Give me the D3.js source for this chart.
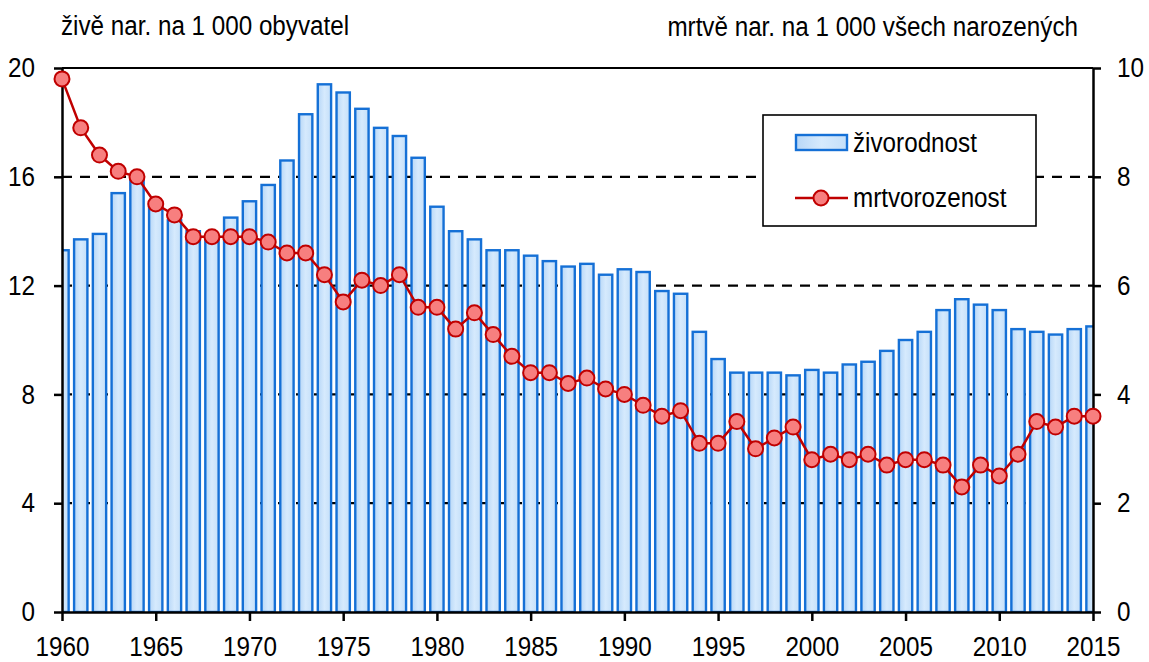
<!DOCTYPE html>
<html>
<head>
<meta charset="utf-8">
<script src="https://cdn.jsdelivr.net/npm/d3@7"></script>
<style>
  html, body { margin: 0; padding: 0; background: #fff; }
  svg text { font-family: "Liberation Sans", Arial, sans-serif; fill: #000; }
</style>
</head>
<body>
<svg id="chart" width="1149" height="662"></svg>
<script>
const years = d3.range(1960, 2016);
const births = [13.3, 13.7, 13.9, 15.4, 15.9, 14.9, 14.4, 14.0, 13.8, 14.5,
  15.1, 15.7, 16.6, 18.3, 19.4, 19.1, 18.5, 17.8, 17.5, 16.7,
  14.9, 14.0, 13.7, 13.3, 13.3, 13.1, 12.9, 12.7, 12.8, 12.4,
  12.6, 12.5, 11.8, 11.7, 10.3, 9.3, 8.8, 8.8, 8.8, 8.7,
  8.9, 8.8, 9.1, 9.2, 9.6, 10.0, 10.3, 11.1, 11.5, 11.3,
  11.1, 10.4, 10.3, 10.2, 10.4, 10.5];
const stillbirths = [9.8, 8.9, 8.4, 8.1, 8.0, 7.5, 7.3, 6.9, 6.9, 6.9,
  6.9, 6.8, 6.6, 6.6, 6.2, 5.7, 6.1, 6.0, 6.2, 5.6,
  5.6, 5.2, 5.5, 5.1, 4.7, 4.4, 4.4, 4.2, 4.3, 4.1,
  4.0, 3.8, 3.6, 3.7, 3.1, 3.1, 3.5, 3.0, 3.2, 3.4,
  2.8, 2.9, 2.8, 2.9, 2.7, 2.8, 2.8, 2.7, 2.3, 2.7,
  2.5, 2.9, 3.5, 3.4, 3.6, 3.6];
const leftTicks = [0, 4, 8, 12, 16, 20];
const rightTicks = [0, 2, 4, 6, 8, 10];
const xTicks = [1960, 1965, 1970, 1975, 1980, 1985, 1990, 1995, 2000, 2005, 2010, 2015];
const leftTitle = "živě nar. na 1 000 obyvatel";
const rightTitle = "mrtvě nar. na 1 000 všech narozených";
const seriesNames = ["živorodnost", "mrtvorozenost"];

const svg = d3.select("#chart");
const L = 62, R = 1093, T = 68, B = 612;
const FS = "27px";
const x = d3.scaleLinear().domain([1960, 2015]).range([L, R]);
const yL = d3.scaleLinear().domain([0, 20]).range([B, T]);
const yR = d3.scaleLinear().domain([0, 10]).range([B, T]);
const step = x(1961) - x(1960);
const bw = step * 0.71;

const defs = svg.append("defs");
const grad = defs.append("linearGradient").attr("id", "barGrad").attr("x1", "0").attr("x2", "1").attr("y1", "0").attr("y2", "0");
grad.append("stop").attr("offset", "0%").attr("stop-color", "#b7d7f7");
grad.append("stop").attr("offset", "50%").attr("stop-color", "#d6eafd");
grad.append("stop").attr("offset", "100%").attr("stop-color", "#c4dff9");
defs.append("clipPath").attr("id", "plotClip").append("rect")
  .attr("x", L).attr("y", T - 20).attr("width", R - L).attr("height", B - T + 20);

// gridlines
svg.append("g").selectAll("line").data(leftTicks.filter(d => d > 0 && d < 20)).join("line")
  .attr("x1", L).attr("x2", R).attr("y1", d => yL(d)).attr("y2", d => yL(d))
  .attr("stroke", "#000").attr("stroke-width", 2.2).attr("stroke-dasharray", "10,8");
svg.append("line").attr("x1", L).attr("x2", R).attr("y1", yL(20)).attr("y2", yL(20))
  .attr("stroke", "#000").attr("stroke-width", 2.2);

// bars
svg.append("g").attr("clip-path", "url(#plotClip)").selectAll("rect").data(years).join("rect")
  .attr("x", (d) => x(d) - bw / 2)
  .attr("y", (d, i) => yL(births[i]))
  .attr("width", bw)
  .attr("height", (d, i) => B - yL(births[i]))
  .attr("fill", "url(#barGrad)")
  .attr("stroke", "#1570d6").attr("stroke-width", 2.4);

// axes
const axisStyle = g => {
  g.select(".domain").attr("stroke", "#000").attr("stroke-width", 2.5);
  g.selectAll(".tick line").attr("stroke", "#000").attr("stroke-width", 2.5);
  g.selectAll(".tick text").style("font-size", FS);
};
svg.append("g").attr("transform", `translate(${L},0)`)
  .call(d3.axisLeft(yL).tickValues(leftTicks).tickSize(8).tickSizeOuter(0).tickPadding(19).tickFormat(d3.format("d")))
  .call(axisStyle);
svg.append("g").attr("transform", `translate(${R},0)`)
  .call(d3.axisRight(yR).tickValues(rightTicks).tickSize(8).tickSizeOuter(0).tickPadding(16).tickFormat(d3.format("d")))
  .call(axisStyle);
svg.append("g").attr("transform", `translate(0,${B})`)
  .call(d3.axisBottom(x).tickValues(xTicks).tickSize(9).tickSizeOuter(0).tickPadding(16).tickFormat(d3.format("d")))
  .call(axisStyle);
svg.selectAll("g").attr("font-family", null);

// line
const line = d3.line().x((d, i) => x(years[i])).y(d => yR(d));
svg.append("path").datum(stillbirths).attr("d", line)
  .attr("fill", "none").attr("stroke", "#c00000").attr("stroke-width", 2.5);
svg.append("g").selectAll("circle").data(stillbirths).join("circle")
  .attr("cx", (d, i) => x(years[i])).attr("cy", d => yR(d)).attr("r", 7.5)
  .attr("fill", "#f77f7f").attr("stroke", "#c00000").attr("stroke-width", 2);

// titles
svg.append("text").attr("x", 61).attr("y", 35).style("font-size", FS).text(leftTitle);
svg.append("text").attr("x", 1078).attr("y", 36).attr("text-anchor", "end").style("font-size", FS).text(rightTitle);

// legend
const lg = svg.append("g");
lg.append("rect").attr("x", 763).attr("y", 115).attr("width", 273).attr("height", 111)
  .attr("fill", "#fff").attr("stroke", "#000").attr("stroke-width", 1.6);
lg.append("rect").attr("x", 796).attr("y", 135).attr("width", 51).attr("height", 15)
  .attr("fill", "url(#barGrad)").attr("stroke", "#1570d6").attr("stroke-width", 2.4);
lg.append("text").attr("x", 853).attr("y", 152).style("font-size", FS).text(seriesNames[0]);
lg.append("line").attr("x1", 795).attr("x2", 848).attr("y1", 198).attr("y2", 198)
  .attr("stroke", "#c00000").attr("stroke-width", 2.5);
lg.append("circle").attr("cx", 821).attr("cy", 198).attr("r", 7.5)
  .attr("fill", "#f77f7f").attr("stroke", "#c00000").attr("stroke-width", 2);
lg.append("text").attr("x", 853).attr("y", 207).style("font-size", FS).text(seriesNames[1]);

// condense text horizontally (reference uses a narrow face)
svg.selectAll("text").each(function () {
  const len = this.getComputedTextLength();
  d3.select(this).attr("textLength", (len * 0.897).toFixed(1)).attr("lengthAdjust", "spacingAndGlyphs");
});
</script>
</body>
</html>
